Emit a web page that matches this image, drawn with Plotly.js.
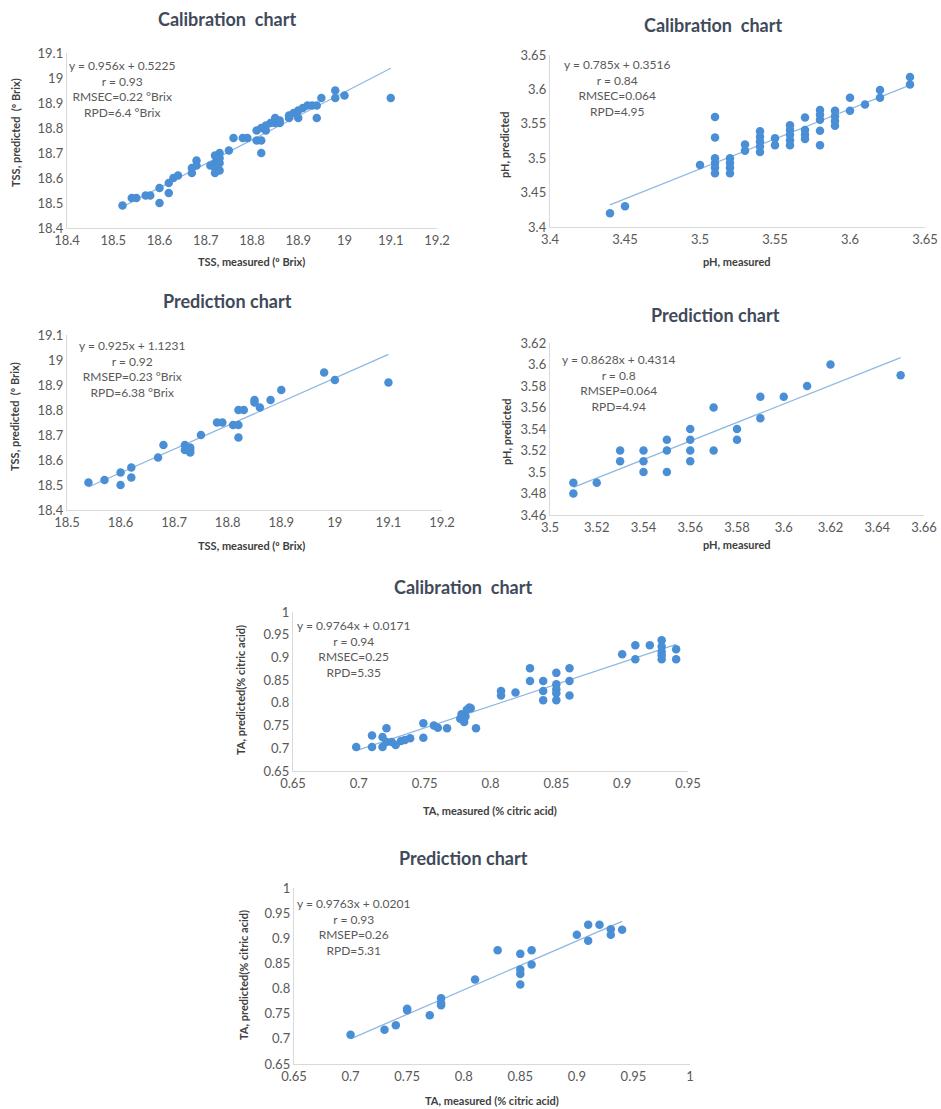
<!DOCTYPE html>
<html>
<head>
<meta charset="utf-8">
<script src="https://cdn.plot.ly/plotly-3.0.1.min.js"></script>
<style>html,body{margin:0;padding:0;background:#fff;}#chart{width:941px;height:1109px;}</style>
</head>
<body>
<div id="chart"></div>
<script>
// ---------- DATA ----------
// Panel 1: TSS calibration
const tssCalMeasured = [18.52,18.54,18.55,18.57,18.58,18.60,18.60,18.62,18.62,18.63,18.64,18.67,18.67,18.68,18.68,18.71,18.72,18.72,18.72,18.73,18.73,18.73,18.72,18.73,18.75,18.76,18.78,18.79,18.81,18.82,18.81,18.82,18.82,18.83,18.83,18.84,18.85,18.85,18.86,18.86,18.88,18.88,18.89,18.90,18.90,18.91,18.92,18.93,18.94,18.94,18.95,18.98,18.98,19.00,19.10];
const tssCalPredicted = [18.49,18.52,18.52,18.53,18.53,18.56,18.50,18.54,18.58,18.60,18.61,18.62,18.64,18.67,18.65,18.65,18.62,18.66,18.64,18.68,18.70,18.66,18.69,18.63,18.71,18.76,18.76,18.76,18.79,18.80,18.75,18.75,18.70,18.79,18.81,18.82,18.82,18.84,18.83,18.82,18.85,18.84,18.86,18.87,18.84,18.88,18.89,18.89,18.89,18.84,18.92,18.95,18.92,18.93,18.92];
// Panel 2: pH calibration
const phCalMeasured = [3.44,3.45,3.50,3.51,3.51,3.51,3.51,3.51,3.51,3.52,3.52,3.52,3.52,3.53,3.53,3.54,3.54,3.54,3.54,3.54,3.55,3.55,3.56,3.56,3.56,3.56,3.56,3.57,3.57,3.57,3.57,3.58,3.58,3.58,3.58,3.58,3.59,3.59,3.59,3.59,3.60,3.60,3.61,3.62,3.62,3.64,3.64];
const phCalPredicted = [3.42,3.43,3.49,3.56,3.53,3.50,3.493,3.486,3.478,3.50,3.493,3.486,3.478,3.52,3.511,3.539,3.531,3.524,3.517,3.509,3.529,3.519,3.548,3.541,3.534,3.526,3.519,3.559,3.541,3.534,3.528,3.570,3.563,3.556,3.54,3.519,3.569,3.561,3.554,3.547,3.588,3.569,3.578,3.599,3.588,3.618,3.607];
// Panel 3: TSS prediction
const tssPredMeasured = [18.54,18.57,18.60,18.60,18.62,18.62,18.67,18.68,18.72,18.72,18.73,18.73,18.73,18.75,18.78,18.79,18.81,18.82,18.82,18.82,18.83,18.85,18.85,18.86,18.88,18.90,18.98,19.00,19.10];
const tssPredPredicted = [18.51,18.52,18.55,18.50,18.57,18.53,18.61,18.66,18.66,18.64,18.65,18.63,18.64,18.70,18.75,18.75,18.74,18.74,18.69,18.80,18.80,18.84,18.83,18.81,18.84,18.88,18.95,18.92,18.91];
// Panel 4: pH prediction
const phPredMeasured = [3.51,3.51,3.52,3.53,3.53,3.54,3.54,3.54,3.55,3.55,3.55,3.56,3.56,3.56,3.56,3.57,3.57,3.58,3.58,3.59,3.59,3.60,3.61,3.62,3.65];
const phPredPredicted = [3.49,3.48,3.49,3.52,3.51,3.52,3.51,3.50,3.53,3.52,3.50,3.54,3.53,3.52,3.51,3.56,3.52,3.54,3.53,3.57,3.55,3.57,3.58,3.60,3.59];
// Panel 5: TA calibration
const taCalMeasured = [0.698,0.710,0.710,0.718,0.718,0.721,0.721,0.725,0.728,0.732,0.735,0.739,0.749,0.749,0.757,0.760,0.767,0.777,0.778,0.780,0.781,0.782,0.784,0.785,0.789,0.808,0.808,0.819,0.830,0.830,0.840,0.840,0.840,0.850,0.850,0.850,0.850,0.850,0.860,0.860,0.860,0.900,0.910,0.910,0.921,0.930,0.930,0.930,0.930,0.930,0.941,0.941];
const taCalPredicted = [0.703,0.728,0.703,0.725,0.703,0.744,0.714,0.714,0.707,0.716,0.718,0.722,0.755,0.723,0.750,0.745,0.744,0.765,0.775,0.758,0.770,0.785,0.790,0.788,0.744,0.826,0.816,0.823,0.876,0.848,0.848,0.826,0.806,0.866,0.841,0.830,0.821,0.806,0.876,0.848,0.816,0.907,0.927,0.896,0.927,0.938,0.924,0.913,0.905,0.896,0.918,0.896];
// Panel 6: TA prediction
const taPredMeasured = [0.70,0.73,0.74,0.75,0.75,0.77,0.78,0.78,0.78,0.81,0.83,0.85,0.85,0.85,0.85,0.86,0.86,0.90,0.91,0.91,0.92,0.93,0.93,0.94];
const taPredPredicted = [0.708,0.718,0.727,0.757,0.760,0.747,0.781,0.771,0.767,0.818,0.876,0.869,0.838,0.829,0.808,0.876,0.848,0.907,0.927,0.895,0.927,0.918,0.907,0.917];

// Texts
const panelTitles = ["Calibration  chart","Calibration  chart","Prediction chart","Prediction chart","Calibration  chart","Prediction chart"];
const statTexts = [
  ["y = 0.956x + 0.5225","r = 0.93","RMSEC=0.22 \u00B0Brix","RPD=6.4 \u00B0Brix"],
  ["y = 0.785x + 0.3516","r = 0.84","RMSEC=0.064","RPD=4.95"],
  ["y = 0.925x + 1.1231","r = 0.92","RMSEP=0.23 \u00B0Brix","RPD=6.38 \u00B0Brix"],
  ["y = 0.8628x + 0.4314","r = 0.8","RMSEP=0.064","RPD=4.94"],
  ["y = 0.9764x + 0.0171","r = 0.94","RMSEC=0.25","RPD=5.35"],
  ["y = 0.9763x + 0.0201","r = 0.93","RMSEP=0.26","RPD=5.31"]
];
const xTitles = ["TSS, measured (\u00BA Brix)","pH, measured","TSS, measured (\u00BA Brix)","pH, measured","TA, measured (% citric acid)","TA, measured (% citric acid)"];
const yTitles = ["TSS, predicted  (\u00BA Brix)","pH, predicted","TSS, predicted  (\u00BA Brix)","pH, predicted","TA, predicted(% citric acid)","TA, predicted(% citric acid)"];
const xRanges = [[18.4,19.2],[3.4,3.65],[18.5,19.2],[3.5,3.66],[0.65,0.95],[0.65,1]];
const yRanges = [[18.4,19.1],[3.4,3.65],[18.4,19.1],[3.46,3.62],[0.65,1],[0.65,1]];
const xSteps = [0.1,0.05,0.1,0.02,0.05,0.05];
const ySteps = [0.1,0.05,0.1,0.02,0.05,0.05];

// ---------- LAYOUT (pixels) ----------
const W = 941, H = 1109;
const series = [
  [tssCalMeasured, tssCalPredicted],
  [phCalMeasured, phCalPredicted],
  [tssPredMeasured, tssPredPredicted],
  [phPredMeasured, phPredPredicted],
  [taCalMeasured, taCalPredicted],
  [taPredMeasured, taPredPredicted]
];
// plot boxes [left, right, top, bottom] in px
const boxes = [[67,437,53,228],[550,925,55,227],[67,442,335,510],[550,924,343,515],[293,688,612,771],[294,690,888,1064]];
const titlePos = [[227,19],[713,25],[227,301],[715,315],[463,587],[463,858]];
const statPos = [[122,56],[617,55],[132,336],[618,350],[353,616],[353,894]];
const xTitlePos = [[252,261],[737,262],[252,545],[737,544],[490,810],[492,1100]];
const yTitlePos = [[15,133],[505,145],[15,417],[507,432],[240,690],[243,975]];

const px = v => v / W;
const py = v => 1 - v / H;

function fit(xs, ys){
  const n = xs.length;
  const mx = xs.reduce((a,b)=>a+b,0)/n, my = ys.reduce((a,b)=>a+b,0)/n;
  let sxy=0, sxx=0;
  for(let i=0;i<n;i++){ sxy += (xs[i]-mx)*(ys[i]-my); sxx += (xs[i]-mx)*(xs[i]-mx); }
  const b = sxy/sxx, a = my - b*mx;
  return [a,b];
}
function tickList(r, step){
  const out = [];
  const n = Math.round((r[1]-r[0])/step);
  for(let j=0;j<=n;j++) out.push(+(r[0]+j*step).toFixed(4));
  return out;
}

const traces = [];
const layout = {
  width: W, height: H,
  margin: {l:0,r:0,t:0,b:0},
  paper_bgcolor: '#ffffff', plot_bgcolor: '#ffffff',
  showlegend: false,
  font: {family: 'Lato, "Open Sans", sans-serif', color: '#595959', size: 13},
  annotations: []
};
const markerColor = '#4a8fd6';
const lineColor = '#8fb8e2';
const axisColor = '#d9d9d9';

series.forEach((s, i) => {
  const k = i === 0 ? '' : String(i+1);
  const xs = s[0], ys = s[1];
  const [a,b] = fit(xs, ys);
  const xmin = Math.min(...xs), xmax = Math.max(...xs);
  traces.push({
    x: [xmin, xmax], y: [a + b*xmin, a + b*xmax],
    mode: 'lines', type: 'scatter', xaxis: 'x'+k, yaxis: 'y'+k,
    line: {color: lineColor, width: 1.3}, hoverinfo: 'skip'
  });
  traces.push({
    x: xs, y: ys, mode: 'markers', type: 'scatter', xaxis: 'x'+k, yaxis: 'y'+k,
    marker: {color: markerColor, size: 8.5}, cliponaxis: false
  });
  const bx = boxes[i];
  const xt = tickList(xRanges[i], xSteps[i]);
  const yt = tickList(yRanges[i], ySteps[i]);
  layout['xaxis'+k] = {
    domain: [px(bx[0]), px(bx[1])], range: [xRanges[i][0], xRanges[i][1] + 1e-9],
    tickmode: 'array', tickvals: xt, ticktext: xt.map(String), ticklabeloverflow: 'allow',
    anchor: 'y'+k, showgrid: false, zeroline: false, showline: true, linecolor: axisColor, linewidth: 1.2,
    ticks: '', tickfont: {size: 13, color: '#595959'}, fixedrange: true
  };
  layout['yaxis'+k] = {
    domain: [py(bx[3]), py(bx[2])], range: [yRanges[i][0], yRanges[i][1] + 1e-9],
    tickmode: 'array', tickvals: yt, ticktext: yt.map(String), ticklabeloverflow: 'allow',
    anchor: 'x'+k, showgrid: false, zeroline: false, showline: true, linecolor: axisColor, linewidth: 1.2,
    ticks: '', tickfont: {size: 13, color: '#595959'}, fixedrange: true
  };
  layout.annotations.push({
    xref: 'paper', yref: 'paper', x: px(titlePos[i][0]), y: py(titlePos[i][1]),
    xanchor: 'center', yanchor: 'middle', showarrow: false, text: '<b>' + panelTitles[i] + '</b>',
    font: {size: 18, color: '#3f4a5a', family: 'Lato, "Open Sans", sans-serif'}
  });
  layout.annotations.push({
    xref: 'paper', yref: 'paper', x: px(statPos[i][0]), y: py(statPos[i][1]),
    xanchor: 'center', yanchor: 'top', align: 'center', showarrow: false,
    text: statTexts[i].join('<br>'),
    font: {size: 12, color: '#595959'}
  });
  layout.annotations.push({
    xref: 'paper', yref: 'paper', x: px(xTitlePos[i][0]), y: py(xTitlePos[i][1]),
    xanchor: 'center', yanchor: 'middle', showarrow: false, text: '<b>' + xTitles[i] + '</b>',
    font: {size: 11, color: '#404040'}
  });
  layout.annotations.push({
    xref: 'paper', yref: 'paper', x: px(yTitlePos[i][0]), y: py(yTitlePos[i][1]),
    xanchor: 'center', yanchor: 'middle', showarrow: false, textangle: -90, text: '<b>' + yTitles[i] + '</b>',
    font: {size: 11, color: '#404040'}
  });
});

Plotly.newPlot('chart', traces, layout, {displayModeBar: false, staticPlot: true});
</script>
</body>
</html>
